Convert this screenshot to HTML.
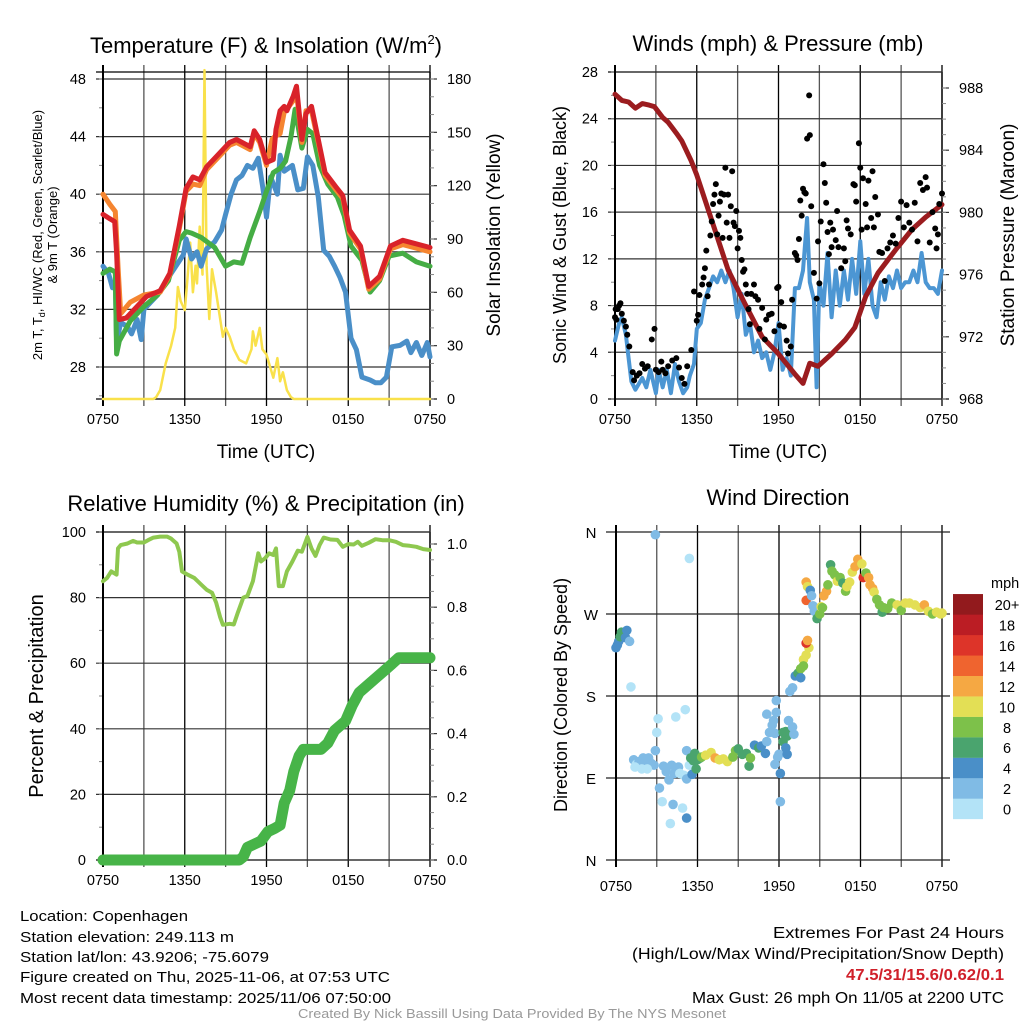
<!DOCTYPE html>
<html><head><meta charset="utf-8"><style>
body{margin:0;background:#fff}
svg{display:block;font-family:"Liberation Sans",sans-serif}
</style></head><body>
<svg id="s" width="1024" height="1024" viewBox="0 0 1024 1024" xmlns="http://www.w3.org/2000/svg">
<rect width="1024" height="1024" fill="#fff"/>
<text x="266" y="53" font-size="22" text-anchor="middle">Temperature (F) &amp; Insolation (W/m<tspan font-size="13" dy="-9">2</tspan><tspan dy="9">)</tspan></text>
<text x="778" y="51" font-size="22" text-anchor="middle">Winds (mph) &amp; Pressure (mb)</text>
<text x="266" y="511" font-size="22" text-anchor="middle">Relative Humidity (%) &amp; Precipitation (in)</text>
<text x="778" y="505" font-size="22" text-anchor="middle">Wind Direction</text>
<text x="266" y="458" font-size="19" text-anchor="middle">Time (UTC)</text>
<text x="778" y="458" font-size="19" text-anchor="middle">Time (UTC)</text>
<text transform="translate(42,235) rotate(-90)" font-size="13" text-anchor="middle">2m T, T<tspan font-size="9" dy="3">d</tspan><tspan dy="-3">, HI/WC (Red, Green, Scarlet/Blue)</tspan></text>
<text transform="translate(57,235) rotate(-90)" font-size="13" text-anchor="middle">&amp; 9m T (Orange)</text>
<text transform="translate(500,235) rotate(-90)" font-size="19" text-anchor="middle">Solar Insolation (Yellow)</text>
<text transform="translate(566,235) rotate(-90)" font-size="18" text-anchor="middle">Sonic Wind &amp; Gust (Blue, Black)</text>
<text transform="translate(1014,235) rotate(-90)" font-size="19" text-anchor="middle">Station Pressure (Maroon)</text>
<text transform="translate(43,696) rotate(-90)" font-size="20" text-anchor="middle">Percent &amp; Precipitation</text>
<text transform="translate(567,695) rotate(-90)" font-size="18" text-anchor="middle">Direction (Colored By Speed)</text>
<g font-size="15">
<text x="20" y="921" textLength="168" lengthAdjust="spacingAndGlyphs">Location: Copenhagen</text>
<text x="20" y="942" textLength="214" lengthAdjust="spacingAndGlyphs">Station elevation: 249.113 m</text>
<text x="20" y="962" textLength="249" lengthAdjust="spacingAndGlyphs">Station lat/lon: 43.9206; -75.6079</text>
<text x="20" y="982" textLength="370" lengthAdjust="spacingAndGlyphs">Figure created on Thu, 2025-11-06, at 07:53 UTC</text>
<text x="20" y="1003" textLength="371" lengthAdjust="spacingAndGlyphs">Most recent data timestamp: 2025/11/06 07:50:00</text>
</g>
<g font-size="15.5" text-anchor="end">
<text x="1004" y="938" textLength="231" lengthAdjust="spacingAndGlyphs">Extremes For Past 24 Hours</text>
<text x="1004" y="959" textLength="372" lengthAdjust="spacingAndGlyphs">(High/Low/Max Wind/Precipitation/Snow Depth)</text>
<text x="1004" y="980" fill="#d0202a" font-weight="bold" textLength="158" lengthAdjust="spacingAndGlyphs">47.5/31/15.6/0.62/0.1</text>
<text x="1004" y="1003" textLength="312" lengthAdjust="spacingAndGlyphs">Max Gust: 26 mph On 11/05 at 2200 UTC</text>
</g>
<text x="512" y="1018" font-size="12.5" fill="#999" text-anchor="middle" textLength="428" lengthAdjust="spacingAndGlyphs">Created By Nick Bassill Using Data Provided By The NYS Mesonet</text>
<g id="charts"></g>
</svg>
<script>
// ---- data (hours since 0750 UTC) ----
const xTickLabels=["0750","1350","1950","0150","0750"];
const tempTicks=[28,32,36,40,44,48];
const insolTicks=[0,30,60,90,120,150,180];
const windTicks=[0,4,8,12,16,20,24,28];
const presTicks=[968,972,976,980,984,988];
const rhTicks=[0,20,40,60,80,100];
const precipTicks=[0.0,0.2,0.4,0.6,0.8,1.0];
const dirTicks=["N","E","S","W","N"];
const cbLabels=["0","2","4","6","8","10","12","14","16","18","20+"];

const tempH=[0,0.5,0.86,1.0,1.2,1.7,2.7,3.2,4.2,4.9,5.6,6.1,6.6,7.1,7.6,8.3,9.3,9.8,10.8,11.1,11.5,12.0,12.5,12.7,13.0,13.3,13.5,13.96,14.2,14.6,14.9,15.3,15.8,16.3,17.1,17.6,18.1,18.9,19.5,20.3,21.1,22.0,22.8,24];
const tempV=[38.6,38.3,38.1,35.9,31.3,31.4,32.4,32.9,33.3,34.5,37.8,40.4,41.2,41.0,41.9,42.6,43.6,43.8,43.3,44.4,43.8,42.2,42.4,44.5,45.8,46.1,45.8,46.8,47.5,43.8,45.6,46.1,43.8,41.5,40.5,39.9,37.5,36.4,33.6,34.3,36.4,36.8,36.6,36.3];
const t9H=[0,0.5,0.9,1.1,1.3,2.0,3.0,4.2,4.9,5.6,6.1,6.6,7.1,7.6,8.3,9.3,9.8,10.8,11.1,11.5,12.0,12.4,12.6,13.0,13.3,13.5,13.96,14.2,14.6,14.9,15.3,15.8,16.3,17.1,17.6,18.1,18.9,19.5,20.3,21.1,22.0,22.8,24];
const t9V=[40.0,39.3,38.8,35.0,31.7,32.5,33.0,33.2,34.4,37.6,40.2,40.7,40.6,41.7,42.4,43.4,43.6,43.1,44.2,43.6,42.0,43.8,44.0,44.2,45.7,45.9,46.5,47.1,43.6,45.8,45.8,43.6,41.3,40.3,39.7,37.3,36.2,33.4,34.1,36.2,36.5,36.3,36.0];
const hiH=[0,0.5,0.9,1.0,1.2,2,3,4,4.8,5.6,6.1,6.5,7.2,8.2,9.0,9.6,10.2,10.8,11.5,12.0,12.5,13.0,13.4,13.8,14.1,14.6,15.0,15.4,15.9,16.5,17.2,17.7,18.2,19.0,19.6,20.3,21.0,22.0,23.0,24];
const hiV=[34.5,34.8,34.6,28.9,29.8,31.2,32.2,33,34,36.8,37.4,37.3,37,36.3,35,35.3,35.2,37,38.8,40.2,41.5,41.8,42.3,44,45.9,43.2,44.5,44.2,42,40.7,39.8,38.5,36.4,35.4,33.2,34,35.7,35.9,35.3,35.0];
const tdH=[0,0.4,0.7,0.9,1.0,1.3,1.8,2.1,2.5,2.8,3,4,5,5.9,6.1,6.5,6.9,7.2,7.6,8.2,8.7,9.0,9.4,9.8,10.2,10.6,11.0,11.4,11.8,12.0,12.3,12.8,13.0,13.3,13.6,13.9,14.3,14.7,15.0,15.4,15.8,16.2,16.6,17.0,17.4,17.8,18.2,18.6,19.0,19.6,20.0,20.4,20.8,21.2,21.8,22.3,22.6,23.0,23.4,23.8,24];
const tdV=[35,34.5,33.5,34,29.7,31.1,30.8,30.3,31.3,29.9,32,33,34.5,35.8,36.9,35.5,36,35,36.2,36.7,37.5,38.6,40,41,41.3,42,41.8,42.5,40,38.4,41.2,40,42.7,41.6,41.8,42,40.3,40.4,42.6,42,39.8,36.1,35.7,35,34.2,33.2,30.0,29.2,27.3,27.1,26.9,26.9,27.3,29.4,29.5,29.8,29,29.7,28.8,29.7,28.7];
const solH=[0,3.7,3.9,4.2,4.6,5.0,5.3,5.5,5.7,6.0,6.2,6.4,6.6,6.8,6.9,7.1,7.3,7.45,7.6,7.8,8.0,8.3,8.5,8.8,9.0,9.3,9.6,10.0,10.5,10.9,11.0,11.2,11.5,11.7,12.0,12.5,12.8,13.0,13.2,13.5,13.8,14.0,24];
const solV=[0,0,1,5,20,30,40,63,55,50,68,88,60,75,65,97,70,186,75,45,73,60,50,35,40,35,28,22,20,28,38,30,40,28,25,12,23,10,15,5,1,0,0];

const presH=[0,0.5,1.0,1.5,2.0,2.5,2.9,3.5,3.9,4.5,4.9,5.6,6.0,7.1,8.3,9.55,10.8,12,13.2,13.8,14.3,14.9,15.9,16.9,17.6,18.4,19.3,20.6,21.8,22.8,24];
const presV=[987.6,987.2,987.1,986.7,987.0,986.9,986.8,986.1,985.8,985.1,984.6,983.3,982.4,979.5,976.3,974.1,972,970.9,969.6,969.0,970.3,970.1,970.9,971.8,972.6,974.6,976.1,977.6,978.9,979.7,980.5];
const windH=[0,0.3,0.5,0.8,1.0,1.2,1.5,2.0,2.3,2.6,3.0,3.2,3.5,3.8,4.1,4.4,4.7,5.0,5.3,5.5,5.8,6.0,6.3,6.6,6.9,7.2,7.5,7.8,8.1,8.4,8.7,9.0,9.3,9.6,9.9,10.2,10.5,10.8,11.1,11.4,11.7,12.0,12.3,12.6,12.9,13.2,13.5,13.8,14.1,14.3,14.6,14.8,15.0,15.3,15.6,15.9,16.2,16.5,16.8,17.1,17.4,17.7,18.0,18.3,18.6,18.9,19.2,19.5,19.8,20.1,20.4,20.7,21.0,21.3,21.6,21.9,22.2,22.5,22.8,23.1,23.4,23.7,24];
const windV=[5,6.5,7,5.5,3.5,1.5,0.8,1.8,1,2.5,0.5,2.5,1,2.5,0.5,3,1.5,0.5,1,2,3,6,6.5,8.5,9.5,10.5,10,11,10,11,9.5,7,9,5.5,6.5,4,5,3.5,4,2.5,4,6.5,2.5,3.5,2,9.5,9.5,11,15.5,10,8.5,1,10,8,12.5,7,11,8,11,8.5,12,9,13.5,9,12,8,7,10,8.5,10.5,9.5,11,9.5,10,10,11,10,12.5,10,9.5,9.5,9,11];
const gustH=[0,0.05,0.1,0.2,0.3,0.4,0.5,0.65,0.8,0.9,1.05,1.3,1.4,1.6,1.8,2.0,2.2,2.4,2.7,2.9,3.0,3.2,3.4,3.5,3.7,3.9,4.2,4.5,4.7,4.9,5.1,5.3,5.6,5.8,6.0,6.1,6.2,6.4,6.5,6.6,6.7,6.8,6.9,7.0,7.1,7.2,7.3,7.4,7.5,7.6,7.7,7.8,7.9,8.0,8.1,8.2,8.3,8.4,8.5,8.6,8.7,8.8,8.9,9.0,9.1,9.2,9.3,9.4,9.5,9.6,9.7,9.8,9.9,10.0,10.2,10.3,10.5,10.6,10.8,11.0,11.1,11.3,11.5,11.7,11.9,12.0,12.1,12.2,12.4,12.6,12.7,12.9,13.0,13.2,13.3,13.4,13.5,13.6,13.7,13.8,13.9,14.0,14.1,14.25,14.3,14.4,14.6,14.8,14.9,15.0,15.1,15.3,15.4,15.5,15.6,15.7,15.8,15.9,16.0,16.2,16.3,16.4,16.6,16.8,16.9,17.0,17.1,17.3,17.5,17.6,17.7,17.9,18.0,18.1,18.2,18.4,18.5,18.6,18.8,18.9,19.0,19.1,19.3,19.4,19.6,19.8,20.0,20.2,20.4,20.6,20.8,21.0,21.2,21.4,21.6,21.8,22.0,22.2,22.4,22.6,22.8,22.9,23.1,23.3,23.5,23.6,23.7,23.8,24];
const gustV=[7,7.7,6.8,7.7,8,8.2,7.3,6.7,6.2,5.5,4.5,2.3,1.6,2,2.2,3,2.6,2.8,5.1,6,2.5,2.3,3.2,2.5,2.2,2.8,3.3,3.5,2.7,1.8,1.3,2.8,4.2,9.2,6.7,7.2,8.9,9.8,10.4,11.2,12.7,8.8,9.8,14,15.2,16.7,17.5,18.4,14.1,15.7,16.9,17.6,13.8,17.5,19.8,15.1,17.5,13.8,16.5,19.5,15.1,14.8,16.1,12.9,14.4,13.8,11.9,10.9,11.1,9.8,9.0,7.7,6.4,9.0,9.8,8.8,8.5,6.0,7.8,5.1,6.8,7.2,7.3,5.8,9.5,9.6,6.3,8.3,6.2,5.0,3.9,4.5,8.5,12.5,12.3,11.9,13.7,17.0,15.7,18.0,17.7,17.6,22.3,26,22.6,16.5,10.8,8.6,13.5,9.9,15.2,20.1,18.5,16.8,14.3,12.4,15.1,13.0,14.5,13.6,16.1,13.0,11.2,12.9,11.8,15.3,14.6,14.1,18.4,18.3,16.9,21.9,19.8,14.5,18.9,16.7,14.7,18.7,15.5,19.5,14.7,17.3,15.8,12.6,12.5,10.1,12.9,13.4,14.0,13.3,15.5,16.9,14.7,16.6,15.1,14.5,16.8,13.5,18.5,17.9,19.0,18.1,13.4,16.0,14.6,12.9,14.1,16.7,17.6];

const rhH=[0,0.3,0.6,0.8,1.0,1.1,1.3,1.8,2.2,2.5,3.0,3.3,3.7,4.2,4.7,5.0,5.4,5.6,5.8,6.2,6.7,7.2,7.6,8.0,8.3,8.6,8.8,9.3,9.6,9.9,10.3,10.6,11.0,11.4,11.6,11.9,12.2,12.5,12.7,12.9,13.2,13.5,13.9,14.3,14.6,15.0,15.3,15.6,15.9,16.2,16.7,17.2,17.6,18.0,18.4,18.7,19.0,19.5,20.0,20.5,21.0,21.5,22.0,22.5,23.0,23.5,24];
const rhV=[85,86,88,87.5,87,95,96,96.5,97.3,96.8,96.8,97.5,98.3,98.6,98.6,98,96.5,94,88,87,86,84,82.4,81.5,78.5,74,71.7,72,71.8,75.5,80,80.5,85,93.5,91,92,93.5,93,95,83.5,83.5,88,91,94.3,94,98.5,95,92.7,96,98.3,97.7,97.6,95.5,96.3,96.2,97,95.8,96.7,97.8,97.5,97.5,97,96,95.8,95.5,94.8,94.5];
const pcpH=[0,10,10.3,10.6,11.1,11.6,12.1,12.6,13.0,13.3,13.7,14.0,14.4,14.7,15.2,16.0,16.5,17.0,17.8,18.3,18.8,19.6,20.4,21.2,21.7,22.5,24];
const pcpV=[0,0,0.01,0.04,0.05,0.06,0.09,0.10,0.11,0.18,0.22,0.28,0.33,0.35,0.35,0.35,0.37,0.41,0.44,0.49,0.53,0.56,0.59,0.62,0.64,0.64,0.64];

const dirH=[0,0.1,0.2,0.3,0.4,0.5,0.6,0.7,0.8,1.0,1.1,2.9,5.4,1.3,1.5,1.7,2.0,2.2,2.4,2.6,2.8,1.9,1.4,2.3,2.9,3.0,3.1,3.2,3.4,3.5,3.7,3.9,4.1,4.3,4.6,4.7,5.0,5.2,5.4,4.2,4.0,4.9,5.1,5.2,4.4,5.2,5.5,5.6,5.7,5.8,5.9,6.0,6.2,6.3,6.6,7.0,7.3,7.6,7.9,8.2,8.6,8.8,9.0,9.3,9.6,9.8,9.9,10.2,10.5,10.7,11.0,11.1,11.3,11.5,11.6,11.7,11.8,11.1,11.8,11.9,11.7,12.0,12.1,12.1,12.3,12.5,12.6,12.3,12.7,12.8,13.0,12.6,12.5,13.1,13.0,13.2,13.4,13.6,13.8,14.0,14.2,14.0,14.1,13.6,13.8,14.0,14.0,14.1,14.3,14.4,14.5,14.6,14.8,15.0,15.1,15.2,15.3,15.5,15.6,15.8,15.9,16.1,16.3,16.5,16.7,16.9,17.0,17.2,17.4,17.6,17.8,17.9,18.1,18.2,18.4,18.6,18.7,18.9,19.0,19.2,19.4,19.6,19.7,20.0,20.3,20.7,21.0,21.3,21.6,22.0,22.4,22.7,23.0,23.3,23.6,23.9,24];
const dirV=[233,236,240,245,250,246,247,244,252,240,190,357,331,110,105,108,112,107,112,106,104,100,102,100,120,140,155,79,64,103,97,88,104,95,102,95,93,89,104,61,40,57,165,46,157,120,112,94,109,117,100,110,112,113,115,118,112,110,111,108,113,120,122,116,117,103,112,126,123,125,117,130,140,148,153,139,175,160,162,113,105,116,95,64,130,141,136,140,153,185,189,116,123,138,146,202,205,210,220,225,233,238,241,200,213,285,305,300,296,290,279,273,265,270,278,277,290,295,302,324,317,313,306,310,304,295,300,305,316,322,330,326,325,310,315,310,302,298,294,286,280,272,277,276,282,280,274,282,282,280,277,280,273,270,272,270,271];
const dirS=[4,4,5,6,6,7,6,4,4,3,1,3,1,2,1,2,3,2,3,2,2,1,1,1,2,1,1,3,1,2,2,2,2,2,2,1,1,2,1,3,1,1,1,4,1,3,6,4,6,6,6,7,6,8,10,10,12,10,10,10,8,8,7,7,6,7,8,4,6,5,5,3,3,3,2,3,3,2,2,2,3,2,4,3,6,6,6,7,3,2,2,4,4,2,3,4,6,8,10,10,10,17,12,5,8,15,12,10,4,2,3,3,6,8,10,8,12,12,8,6,8,8,10,8,6,8,10,10,10,12,12,12,10,16,8,12,12,12,10,8,8,6,8,8,8,10,8,10,10,10,10,12,10,8,10,10,10];
const cbColors=["#b3e3f7","#80bbe5","#4a8fc8","#4aa46e","#7dc14a","#e3df55","#f5a843","#ef642f","#dd3429","#bb1d24","#921a1d"];

// ---- helpers ----
const NS="http://www.w3.org/2000/svg";
const root=document.getElementById('charts');
function mk(tag,attrs,parent){const e=document.createElementNS(NS,tag);for(const k in attrs)e.setAttribute(k,attrs[k]);(parent||root).appendChild(e);return e;}
function lin(d0,d1,r0,r1){return v=>r0+(v-d0)*(r1-r0)/(d1-d0);}
function pathD(xs,ys,fx,fy){return xs.map((h,i)=>(i?'L':'M')+fx(h).toFixed(1)+','+fy(ys[i]).toFixed(1)).join('');}

function frame(name,x0,x1,y0,y1,fx,leftTicks,fyL,leftFmt,leftMinor,rightTicks,fyR,rightFmt,rightMinor,labelY){
  const g=mk('g',{});
  
  
  for(let h=0;h<=24;h+=3){
    const l=mk('line',{x1:fx(h),x2:fx(h),y1:y0-7,y2:y1+7,stroke:(h%6===0)?'#000':'#555','stroke-width':1.3},g);
    
    
  }
  xTickLabels.forEach((t,i)=>{
    const tx=mk('text',{x:fx(i*6),y:labelY,'font-size':14.5,'text-anchor':'middle'},g);tx.textContent=t;
    
    
  });
  mk('line',{x1:x0-7,x2:x1,y1:y0,y2:y0,stroke:'#000','stroke-width':1.3},g);
  mk('line',{x1:x0-7,x2:x1+7,y1:y1,y2:y1,stroke:'#000','stroke-width':1.3},g);
  mk('line',{x1:x1,x2:x1,y1:y0,y2:y1,stroke:'#000','stroke-width':1.3},g);
  leftTicks.forEach(v=>{
    const y=fyL(v);
    const l=mk('line',{x1:x0-7,x2:x1,y1:y,y2:y,stroke:'#333','stroke-width':1.2},g);
    
    
    const t=mk('text',{x:x0-17,y:y+5,'font-size':14.5,'text-anchor':'end'},g);t.textContent=leftFmt(v);
    
    
  });
  leftMinor.forEach(v=>{const y=fyL(v);if(y>=y0&&y<=y1)mk('line',{x1:x0-4,x2:x0,y1:y,y2:y,stroke:'#888','stroke-width':1},g);});
  if(rightTicks){
    rightTicks.forEach(v=>{
      const y=fyR(v);
      mk('line',{x1:x1,x2:x1+7,y1:y,y2:y,stroke:'#333','stroke-width':1.2},g);
      const t=mk('text',{x:x1+17,y:y+5,'font-size':14.5},g);t.textContent=rightFmt(v);
      
      
    });
    rightMinor.forEach(v=>{const y=fyR(v);if(y>=y0&&y<=y1)mk('line',{x1:x1,x2:x1+4,y1:y,y2:y,stroke:'#888','stroke-width':1},g);});
  }
  mk('line',{x1:x0,x2:x0,y1:y0-7,y2:y1+7,stroke:'#000','stroke-width':2},g);
}
function series(name,xs,ys,fx,fy,color,w){
  const p=mk('path',{d:pathD(xs,ys,fx,fy),fill:'none',stroke:color,'stroke-width':w,'stroke-linejoin':'round','stroke-linecap':'round'});
  
  
}
function range(a,b,s){const r=[];for(let v=a;v<=b+1e-9;v+=s)r.push(+v.toFixed(3));return r;}

// ---- panel 1: temperature ----
{
  const fx=lin(0,24,103,430), fy=lin(48,28,79,367), fs=lin(0,180,399,79);
  frame('temp',103,430,72,399,fx,tempTicks,fy,v=>v,range(26,48,2),insolTicks,fs,v=>v,range(0,185,10),424);
  series('insolation-line',solH,solV.map(v=>Math.min(v,185)),fx,fs,'#f9e14b',2.5);
  series('dewpoint-line',tdH,tdV,fx,fy,'#4a8fc8',5);
  series('hi-wc-line',hiH,hiV,fx,fy,'#45ad44',5);
  series('temp-9m-line',t9H,t9V,fx,fy,'#f58530',5);
  series('temp-2m-line',tempH,tempV,fx,fy,'#d9232a',5);
}
// ---- panel 2: winds & pressure ----
{
  const fx=lin(0,24,615,942), fy=lin(0,28,399,72), fp=lin(968,988,399,88);
  frame('wind',615,942,72,399,fx,windTicks,fy,v=>v,range(0,28,2),presTicks,fp,v=>v,range(968,988.6,1),424);
  series('wind-speed-line',windH,windV,fx,fy,'#4c96d3',4);
  series('pressure-line',presH,presV,fx,fp,'#9b1c1f',5);
  gustH.forEach((h,i)=>{
    const c=mk('circle',{cx:fx(h),cy:fy(gustV[i]),r:3,fill:'#000'});
    
    
  });
}
// ---- panel 3: RH & precip ----
{
  const fx=lin(0,24,103,430), fy=lin(0,100,860,532), fpc=lin(0,1,860,544);
  frame('rh',103,430,532,860,fx,rhTicks,fy,v=>v,range(0,100,10),precipTicks,fpc,v=>v.toFixed(1),range(0,1.03,0.05),885);
  series('rh-line',rhH,rhV,fx,fy,'#8ec84f',4);
  series('precip-line',pcpH,pcpV,fx,fpc,'#47b448',11);
}
// ---- panel 4: wind direction ----
{
  const fx=lin(0,24,616,942), fy=lin(0,360,860,532);
  const dirVals=[0,90,180,270,360];
  const g=mk('g',{});
  
  
  for(let h=0;h<=24;h+=3){mk('line',{x1:fx(h),x2:fx(h),y1:525,y2:867,stroke:(h%6===0)?'#000':'#555','stroke-width':1.3},g);}
  xTickLabels.forEach((t,i)=>{const tx=mk('text',{x:fx(i*6),y:891,'font-size':14.5,'text-anchor':'middle'},g);tx.textContent=t;
    
    });
  dirVals.forEach((v,i)=>{const y=fy(v);mk('line',{x1:606,x2:950,y1:y,y2:y,stroke:'#222','stroke-width':1.2},g);
    const t=mk('text',{x:591,y:y+6,'font-size':15,'text-anchor':'middle'},g);t.textContent=dirTicks[i];
    
    });
  mk('line',{x1:fx(0),x2:fx(0),y1:525,y2:867,stroke:'#000','stroke-width':2},g);
  dirH.forEach((h,i)=>{
    const bin=Math.min(10,Math.floor(dirS[i]/2));
    const c=mk('circle',{cx:fx(h),cy:fy(dirV[i]),r:4.8,fill:cbColors[bin]});
    
    
  });
  const cb=mk('g',{});
  
  
  const m=mk('text',{x:991,y:588,'font-size':14.5},cb);m.textContent='mph';
  cbLabels.forEach((l,i)=>{
    const y=819-(i+1)*20.45;
    const r=mk('rect',{x:953,y:y,width:30,height:20.6,fill:cbColors[i]},cb);
    
    
    const t=mk('text',{x:1007,y:y+16,'font-size':14.5,'text-anchor':'middle'},cb);t.textContent=l;
    
    
  });
}
</script>
</body></html>
